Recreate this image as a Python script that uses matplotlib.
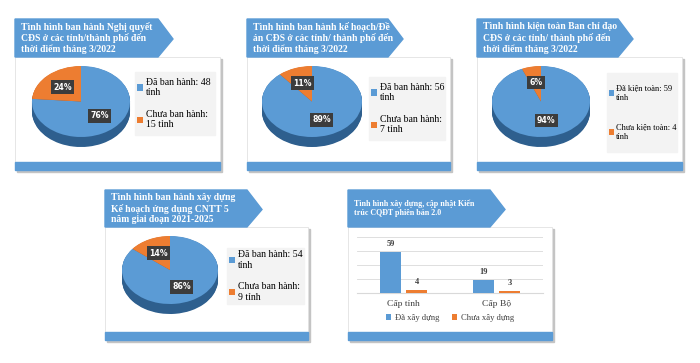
import numpy as np
import matplotlib
matplotlib.use("Agg")
import matplotlib.pyplot as plt
from matplotlib.patches import Polygon, Rectangle

W, H = 700, 363

BLUE = "#5B9BD5"
ORANGE = "#ED7D31"
DARK_BLUE = "#2E5F8E"
DARK_ORANGE = "#A9541C"

# --- data ---
titles = [
    "Tình hình ban hành Nghị quyết\nCĐS ở các tỉnh/thành phố đến\nthời điểm tháng 3/2022",
    "Tình hình ban hành kế hoạch/Đề\nán CĐS ở các tỉnh/ thành phố đến\nthời điểm tháng 3/2022",
    "Tình hình kiện toàn Ban chỉ đạo\nCĐS ở các tỉnh/ thành phố đến\nthời điểm tháng 3/2022",
    "Tình hình ban hành xây dựng\nKế hoạch ứng dụng CNTT 5\nnăm giai đoạn 2021-2025",
]
done_counts = [48, 56, 59, 54]
todo_counts = [15, 7, 4, 9]
done_labels = ["Đã ban hành: 48\ntỉnh", "Đã ban hành: 56\ntỉnh",
               "Đã kiện toàn: 59\ntỉnh", "Đã ban hành: 54\ntỉnh"]
todo_labels = ["Chưa ban hành:\n15 tỉnh", "Chưa ban hành:\n7 tỉnh",
               "Chưa kiện toàn: 4\ntỉnh", "Chưa ban hành:\n9 tỉnh"]

bar_title = "Tình hình xây dựng, cập nhật Kiến\ntrúc CQĐT phiên bản 2.0"
bar_categories = ["Cấp tỉnh", "Cấp Bộ"]
bar_done = [59, 19]
bar_todo = [4, 3]
bar_series = ["Đã xây dựng", "Chưa xây dựng"]

# --- layout (pixels) ---
# card x0, x1, banner top, card top, card bottom, banner tip
panels = [
    (15, 220, 19, 57, 170, 173),
    (247, 450, 19, 57, 170, 403),
    (477, 682, 19, 57, 170, 633),
    (105, 308, 190, 227, 340, 262),
    (348, 552, 190, 227, 340, 505),
]
pie_boxes = [(32, 66, 130, 147), (262, 66, 362, 147), (492, 66, 590, 147), (122, 236, 218, 314)]
legend_boxes = [(135, 72, 215, 135), (369, 77, 445, 140), (607, 73, 677, 152), (227, 248, 304, 304)]
legend_sizes = [7, 7, 6.0, 7]
legend_spacing = [1.3, 1.3, 2.6, 1.3]

fig = plt.figure(figsize=(W / 100, H / 100), dpi=100)
fig.patch.set_facecolor("white")

bg = fig.add_axes([0, 0, 1, 1])
bg.set_xlim(0, W)
bg.set_ylim(H, 0)
bg.axis("off")


def px_axes(x0, y0, x1, y1):
    return fig.add_axes([x0 / W, 1 - y1 / H, (x1 - x0) / W, (y1 - y0) / H])


all_titles = titles + [bar_title]
for i, (x0, x1, yb, yc, yd, tip) in enumerate(panels):
    # card shadow + card + bottom bar
    bg.add_patch(Rectangle((x0 + 2, yc + 2), x1 - x0, yd - yc, color="#C4C4C4", zorder=1))
    bg.add_patch(Rectangle((x0, yc), x1 - x0, yd - yc, facecolor="white",
                           edgecolor="#E2E2E2", linewidth=0.6, zorder=2))
    bg.add_patch(Rectangle((x0, yd - 8), x1 - x0, 8, color=BLUE, zorder=3))
    # banner arrow
    bg.add_patch(Polygon([(x0, yb), (tip - 15, yb), (tip, (yb + yc) / 2 + 1),
                          (tip - 15, yc), (x0, yc)], closed=True, color=BLUE, zorder=3))
    fs = 5.8 if i == 4 else 6.9
    bg.text(x0 + 6, (yb + yc) / 2, all_titles[i], color="white", fontsize=fs,
            fontweight="bold", family="Liberation Serif", ha="left", va="center",
            linespacing=1.2, zorder=4)

# --- pies ---
depth_px = 10
for i in range(4):
    vals = [done_counts[i], todo_counts[i]]
    x0, y0, x1, y1 = pie_boxes[i]
    ax = px_axes(x0, y0, x1, y1)
    top_h = (y1 - y0) - depth_px
    d = depth_px * 2.0 / top_h
    for k in np.linspace(d, 0.01, 14):
        ax.pie(vals, colors=[DARK_BLUE, DARK_ORANGE], center=(0, -k), radius=1,
               startangle=90, counterclock=False, wedgeprops=dict(linewidth=0))
    wedges, _, autotexts = ax.pie(
        vals, colors=[BLUE, ORANGE], radius=1, startangle=90, counterclock=False,
        autopct="%.0f%%", pctdistance=0.55, wedgeprops=dict(linewidth=0),
        textprops=dict(color="white", fontsize=5.6, fontweight="bold", family="DejaVu Sans"))
    for t in autotexts:
        t.set_bbox(dict(boxstyle="square,pad=0.3", facecolor="#3C3C3C", edgecolor="none"))
    ax.set_aspect("auto")
    ax.set_xlim(-1, 1)
    ax.set_ylim(-1 - d, 1)
    ax.axis("off")

    lx0, ly0, lx1, ly1 = legend_boxes[i]
    bg.add_patch(Rectangle((lx0, ly0), lx1 - lx0, ly1 - ly0, color="#F3F3F3", zorder=3))
    fig.legend(wedges, [done_labels[i], todo_labels[i]], loc="center left",
               bbox_to_anchor=(lx0 / W, 1 - (ly0 + ly1) / 2 / H), frameon=False,
               prop=dict(family="Liberation Serif", size=legend_sizes[i]),
               handlelength=0.6, handleheight=0.6, handletextpad=0.3,
               labelspacing=legend_spacing[i], borderaxespad=0.0, borderpad=0.2)

# --- bar chart ---
bx = px_axes(357, 237, 543, 293)
pos = np.arange(len(bar_categories))
b1 = bx.bar(pos - 0.14, bar_done, width=0.22, color=BLUE, zorder=3)
b2 = bx.bar(pos + 0.14, bar_todo, width=0.22, color=ORANGE, zorder=3)
for bars in (b1, b2):
    bx.bar_label(bars, padding=3, fontsize=6, fontweight="bold",
                 family="Liberation Serif", color="#404040")
bx.set_xlim(-0.5, 1.5)
bx.set_ylim(0, 80)
bx.set_yticks([0, 20, 40, 60, 80])
bx.yaxis.grid(True, color="#D9D9D9", linewidth=0.6)
bx.tick_params(axis="y", left=False, labelleft=False)
bx.set_xticks(pos)
bx.set_xticklabels(bar_categories, family="Liberation Serif", fontsize=6.8, color="#404040")
bx.tick_params(axis="x", length=0, pad=5)
for s in ("top", "right", "left"):
    bx.spines[s].set_visible(False)
bx.spines["bottom"].set_color("#D9D9D9")
bx.set_facecolor("none")
bx.legend([b1, b2], bar_series, loc="center", bbox_to_anchor=(0.5, -0.45), ncol=2,
          frameon=False, prop=dict(family="Liberation Serif", size=6.2),
          handlelength=0.6, handleheight=0.6, handletextpad=0.4, columnspacing=1.5,
          labelcolor="#404040")

fig.savefig("out.png", dpi=100)
